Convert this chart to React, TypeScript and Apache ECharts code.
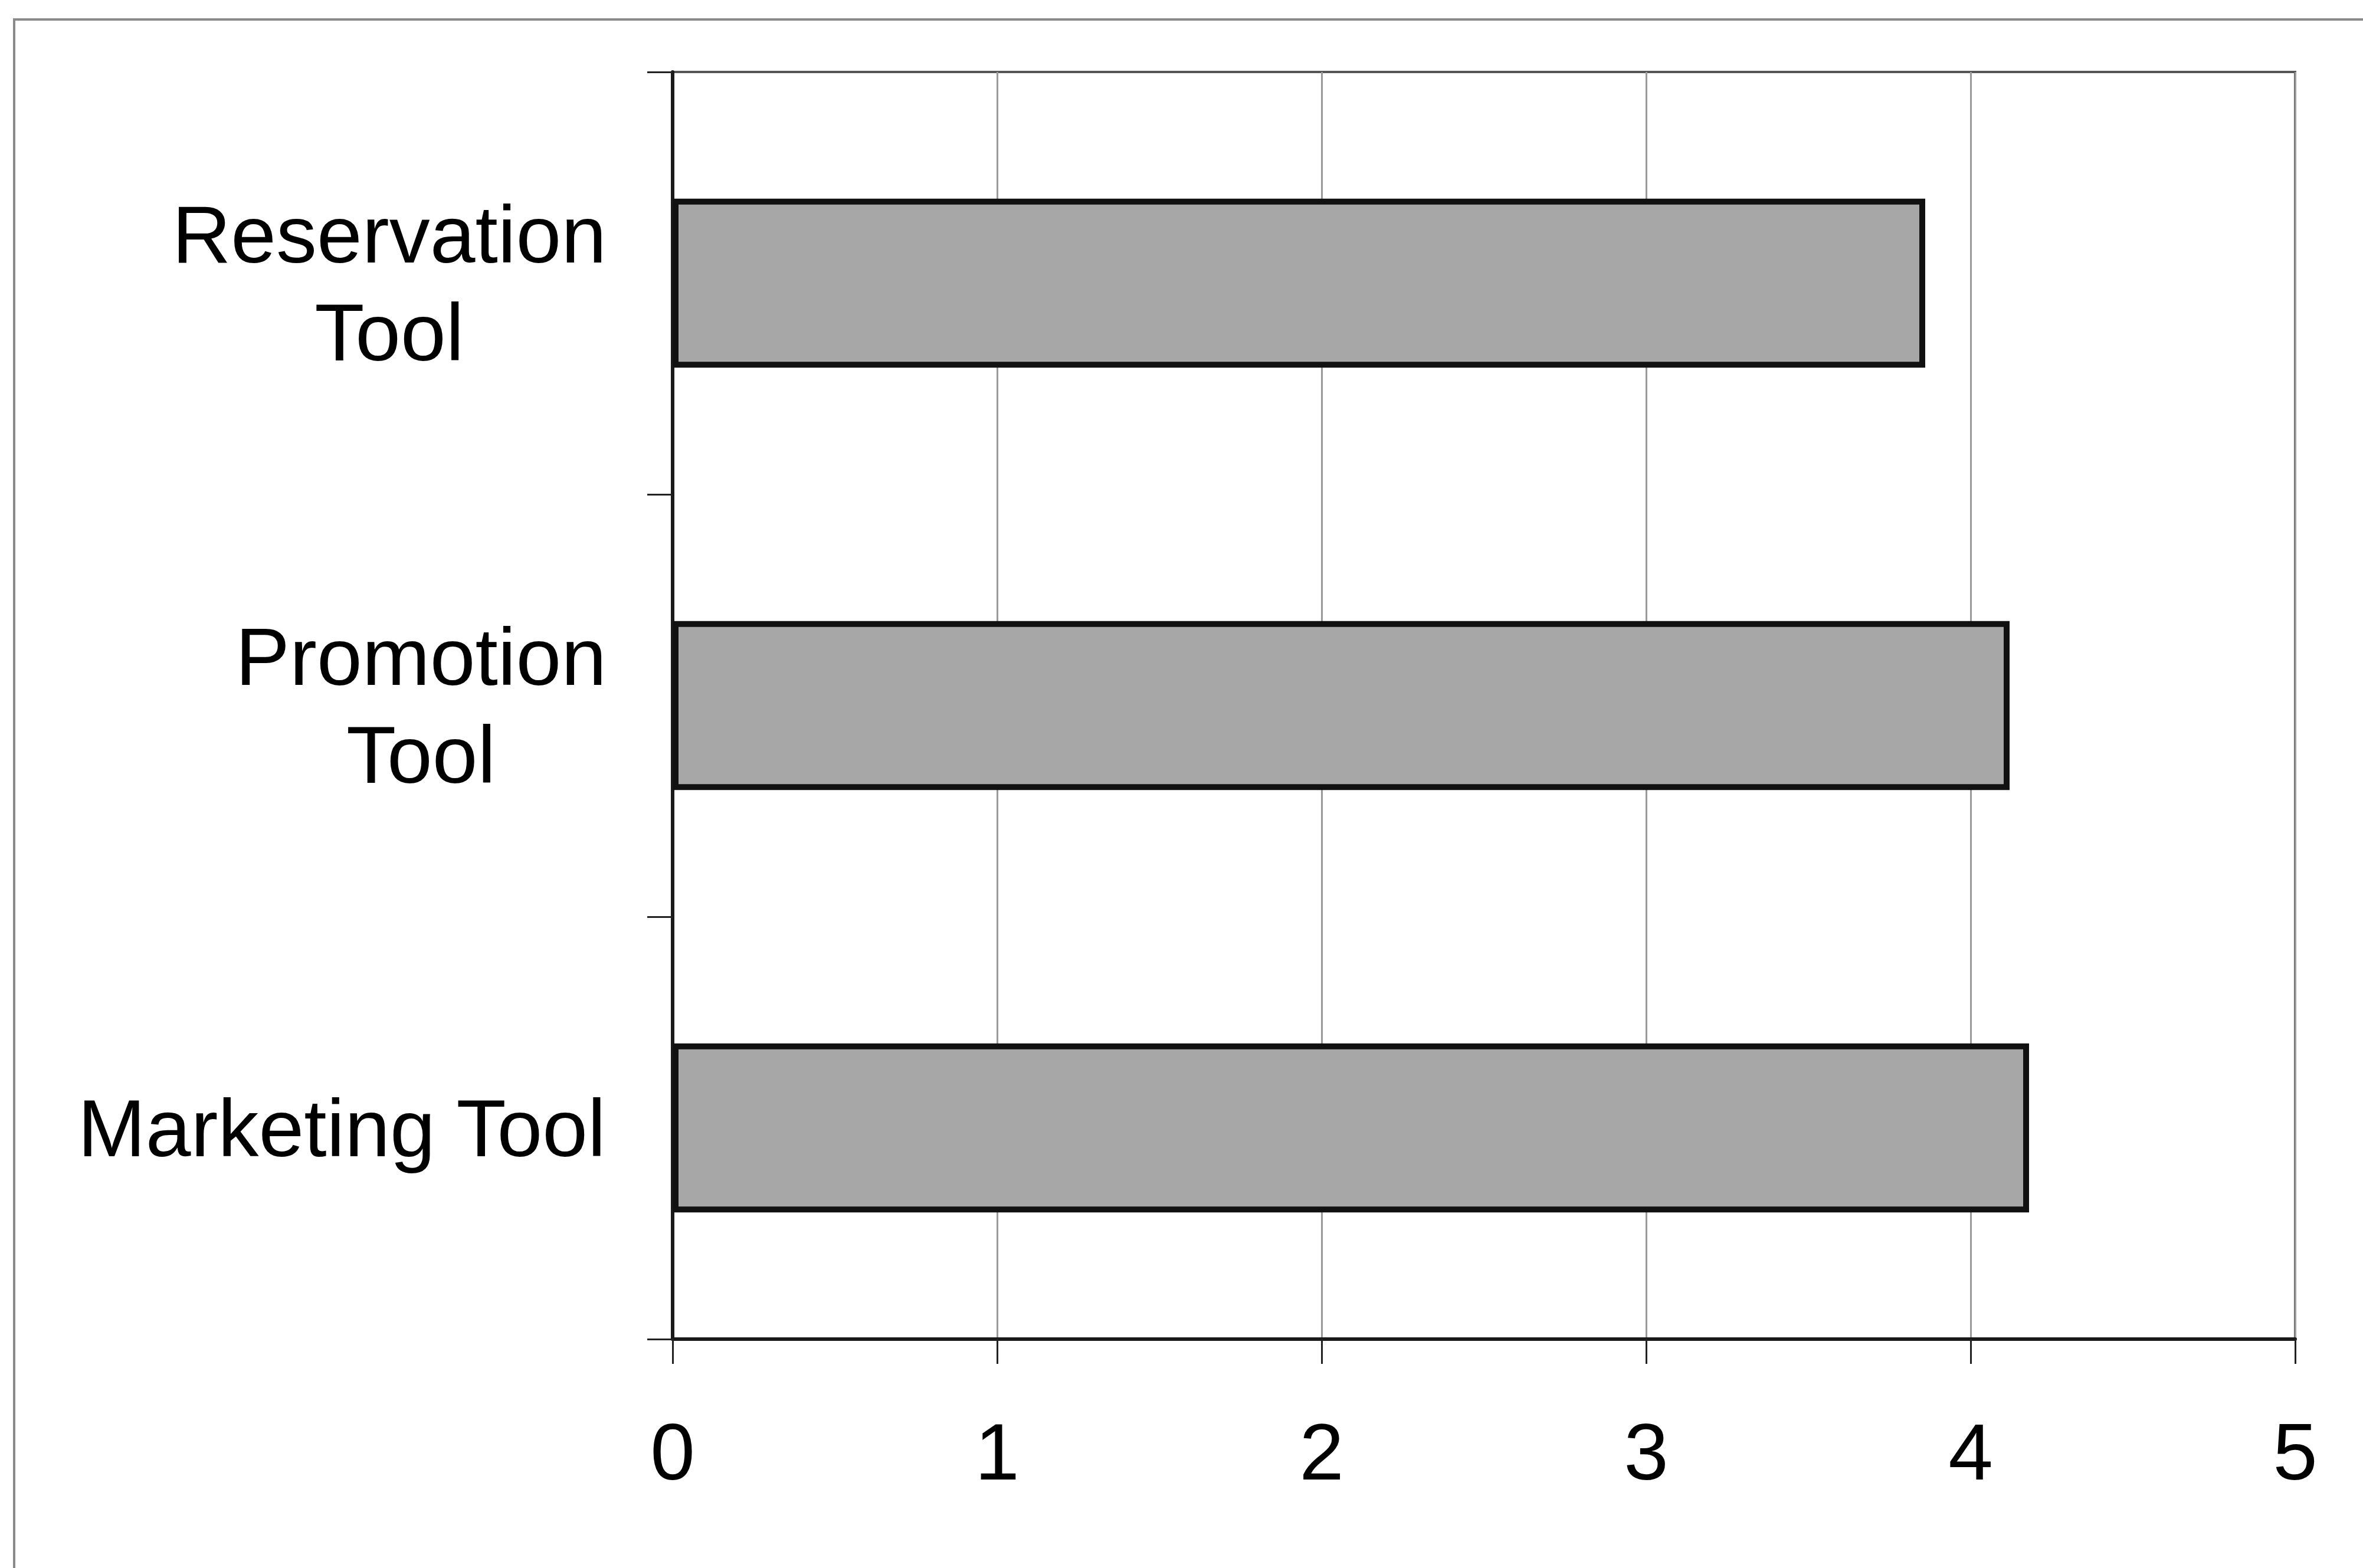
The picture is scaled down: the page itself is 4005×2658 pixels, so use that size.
import React, { useEffect, useRef } from "react";
import * as echarts from "echarts";

const categories = ["Reservation\nTool", "Promotion\nTool", "Marketing Tool"];
const values = [3.86, 4.12, 4.18];
const xTicks = [0, 1, 2, 3, 4, 5];

export default function App() {
  const ref = useRef<HTMLDivElement>(null);
  useEffect(() => {
    if (!ref.current) return;
    const chart = echarts.init(ref.current, null, { renderer: "svg" });
    const font = "'Liberation Sans', Arial, sans-serif";
    chart.setOption({
      animation: false,
      backgroundColor: "#ffffff",
      textStyle: { fontFamily: font },
      grid: {
        left: 1140,
        top: 122,
        width: 2750,
        height: 2148,
        show: true,
        borderColor: "#555555",
        borderWidth: 4,
        backgroundColor: "transparent",
      },
      graphic: [
        {
          type: "rect",
          shape: { x: 24, y: 33, width: 4100, height: 2700 },
          style: { fill: "none", stroke: "#8a8a8a", lineWidth: 4 },
          silent: true,
          z: -10,
        },
      ],
      xAxis: {
        type: "value",
        min: xTicks[0],
        max: xTicks[xTicks.length - 1],
        interval: 1,
        axisLine: { show: true, lineStyle: { color: "#1a1a1a", width: 6 } },
        axisTick: { show: true, length: 42, lineStyle: { color: "#222222", width: 3 } },
        axisLabel: {
          show: true,
          margin: 123,
          fontSize: 136,
          color: "#000000",
          fontFamily: font,
          formatter: (v: number) => (xTicks.includes(v) ? String(v) : ""),
        },
        splitLine: { show: true, lineStyle: { color: "#9a9a9a", width: 3 } },
      },
      yAxis: {
        type: "category",
        inverse: true,
        data: categories,
        axisLine: { show: true, lineStyle: { color: "#1a1a1a", width: 6 } },
        axisTick: { show: true, length: 43, lineStyle: { color: "#222222", width: 3 } },
        axisLabel: {
          show: true,
          margin: 112,
          align: "right",
          formatter: (v: string) =>
            v
              .split("\n")
              .map((s) => "{c|" + s + "}")
              .join("\n"),
          rich: {
            c: {
              align: "center",
              fontSize: 138,
              lineHeight: 166,
              color: "#000000",
              fontFamily: font,
            },
          },
        },
        splitLine: { show: false },
      },
      series: [
        {
          type: "bar",
          data: values,
          barCategoryGap: "60%",
          itemStyle: {
            color: "#a7a7a7",
            borderColor: "#111111",
            borderWidth: 10,
          },
        },
      ],
    });
    return () => chart.dispose();
  }, []);
  return (
    <div
      ref={ref}
      style={{ position: "absolute", left: 0, top: 0, width: 4005, height: 2658 }}
    />
  );
}
